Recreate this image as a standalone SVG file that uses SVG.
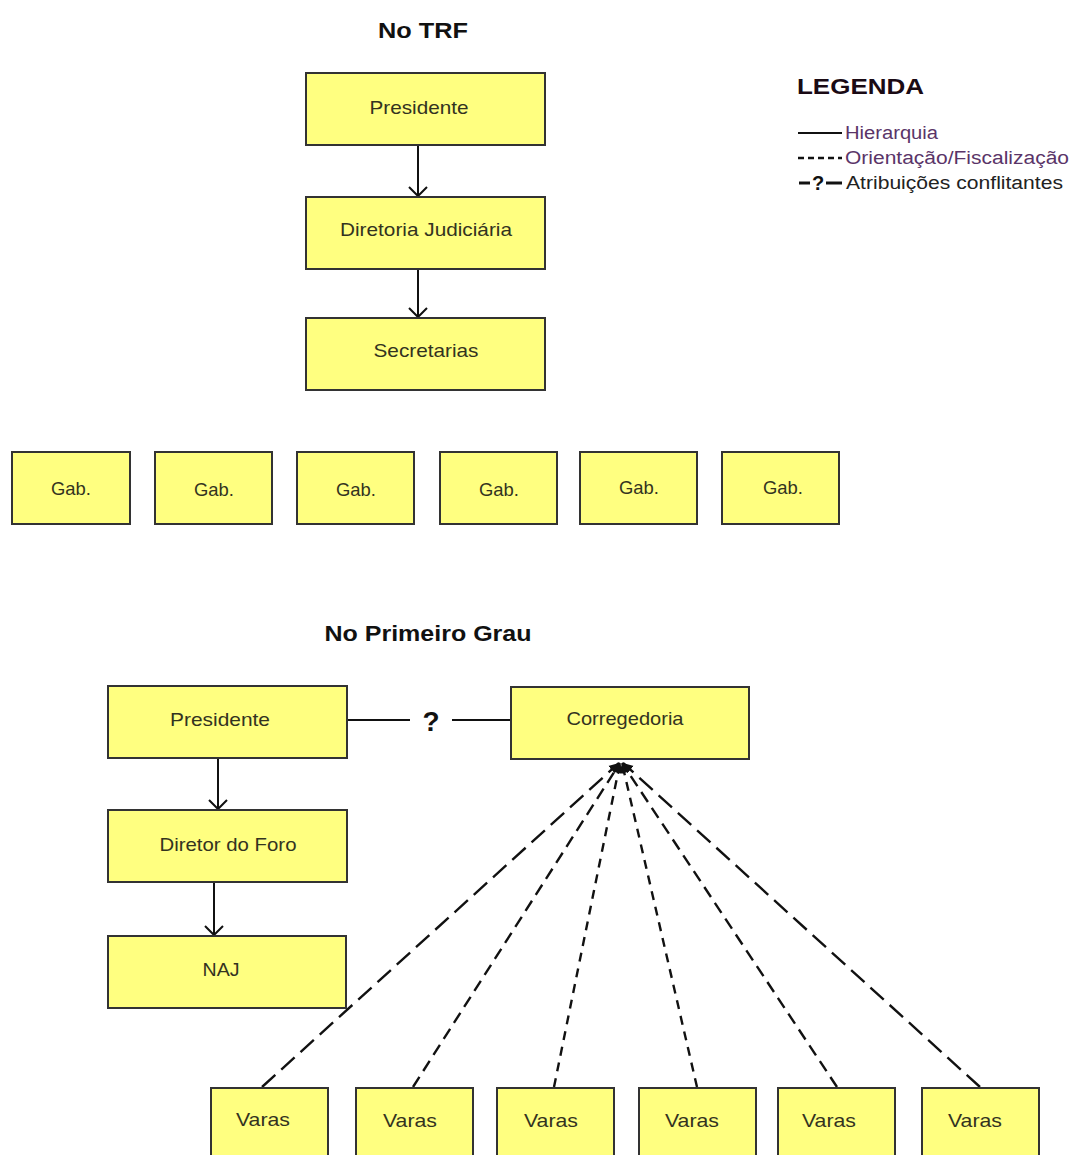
<svg xmlns="http://www.w3.org/2000/svg" width="1074" height="1155" viewBox="0 0 1074 1155">
<style>
.box{fill:#ffff80;stroke:#333;stroke-width:2}
.t{font-family:"Liberation Sans",Arial,sans-serif;font-size:19px;fill:#33331f;text-anchor:middle}
.h{font-family:"Liberation Sans",Arial,sans-serif;font-size:22px;font-weight:bold;fill:#111;text-anchor:middle}
.lg{font-family:"Liberation Sans",Arial,sans-serif;font-size:18px;fill:#5a3468}
.solid{stroke:#111;stroke-width:2;fill:none}
.dash{stroke:#111;stroke-width:2.4;fill:none}
</style>
<defs>
<marker id="open" markerUnits="userSpaceOnUse" markerWidth="20" markerHeight="20" refX="10" refY="10" orient="auto" viewBox="0 0 20 20">
<path d="M1,1 L10,10 L1,19" fill="none" stroke="#111" stroke-width="2"/>
</marker>
<marker id="tri" markerUnits="userSpaceOnUse" markerWidth="12" markerHeight="12" refX="10" refY="5" orient="auto" viewBox="0 0 12 10">
<path d="M0,0 L10,5 L0,10 Z" fill="#111"/>
</marker>
</defs>
<rect width="1074" height="1155" fill="#fff"/>

<text class="h" x="423" y="38" textLength="90" lengthAdjust="spacingAndGlyphs">No TRF</text>
<text class="h" x="428" y="641" textLength="207" lengthAdjust="spacingAndGlyphs">No Primeiro Grau</text>

<g id="legend">
<text x="797" y="94" font-family="Liberation Sans,Arial,sans-serif" font-size="22" font-weight="bold" fill="#1a0a14" textLength="127" lengthAdjust="spacingAndGlyphs">LEGENDA</text>
<line x1="798" y1="133" x2="842" y2="133" class="solid"/>
<text class="lg" x="845" y="139" textLength="93" lengthAdjust="spacingAndGlyphs">Hierarquia</text>
<line x1="798" y1="158" x2="842" y2="158" class="dash" stroke-dasharray="6 4"/>
<text class="lg" x="845" y="164" textLength="224" lengthAdjust="spacingAndGlyphs">Orientação/Fiscalização</text>
<line x1="799" y1="183" x2="810" y2="183" stroke="#111" stroke-width="3"/>
<text x="818" y="190" font-family="Liberation Sans,Arial,sans-serif" font-size="20" font-weight="bold" fill="#111" text-anchor="middle">?</text>
<line x1="826" y1="183" x2="842" y2="183" stroke="#111" stroke-width="3"/>
<text x="846" y="189" font-family="Liberation Sans,Arial,sans-serif" font-size="18" fill="#222" textLength="217" lengthAdjust="spacingAndGlyphs">Atribuições conflitantes</text>
</g>

<g id="connectors">
<line x1="418" y1="145" x2="418" y2="196" class="solid" marker-end="url(#open)"/>
<line x1="418" y1="269" x2="418" y2="317" class="solid" marker-end="url(#open)"/>
<line x1="218" y1="758" x2="218" y2="809" class="solid" marker-end="url(#open)"/>
<line x1="214" y1="882" x2="214" y2="935" class="solid" marker-end="url(#open)"/>
<line x1="347" y1="720" x2="410" y2="720" class="solid"/>
<text x="431" y="731" font-family="Liberation Sans,Arial,sans-serif" font-size="28" font-weight="bold" fill="#111" text-anchor="middle">?</text>
<line x1="452" y1="720" x2="511" y2="720" class="solid"/>
<line x1="262" y1="1087" x2="619" y2="763" class="dash" stroke-dasharray="18 8" marker-end="url(#tri)"/>
<line x1="413" y1="1087" x2="620" y2="763" class="dash" stroke-dasharray="12 7" marker-end="url(#tri)"/>
<line x1="554" y1="1087" x2="620" y2="763" class="dash" stroke-dasharray="9 7" marker-end="url(#tri)"/>
<line x1="697" y1="1087" x2="622" y2="763" class="dash" stroke-dasharray="9 7" marker-end="url(#tri)"/>
<line x1="837" y1="1087" x2="622" y2="763" class="dash" stroke-dasharray="12 7" marker-end="url(#tri)"/>
<line x1="980" y1="1087" x2="623" y2="763" class="dash" stroke-dasharray="18 8" marker-end="url(#tri)"/>
</g>

<g id="trf-presidente"><rect class="box" x="306" y="73" width="239" height="72"/><text class="t" x="419" y="114" textLength="99" lengthAdjust="spacingAndGlyphs">Presidente</text></g>
<g id="trf-diretoria"><rect class="box" x="306" y="197" width="239" height="72"/><text class="t" x="426" y="236" textLength="172" lengthAdjust="spacingAndGlyphs">Diretoria Judiciária</text></g>
<g id="trf-secretarias"><rect class="box" x="306" y="318" width="239" height="72"/><text class="t" x="426" y="357" textLength="105" lengthAdjust="spacingAndGlyphs">Secretarias</text></g>

<g id="gab1"><rect class="box" x="12" y="452" width="118" height="72"/><text class="t" x="71" y="495" textLength="40" lengthAdjust="spacingAndGlyphs">Gab.</text></g>
<g id="gab2"><rect class="box" x="155" y="452" width="117" height="72"/><text class="t" x="214" y="496" textLength="40" lengthAdjust="spacingAndGlyphs">Gab.</text></g>
<g id="gab3"><rect class="box" x="297" y="452" width="117" height="72"/><text class="t" x="356" y="496" textLength="40" lengthAdjust="spacingAndGlyphs">Gab.</text></g>
<g id="gab4"><rect class="box" x="440" y="452" width="117" height="72"/><text class="t" x="499" y="496" textLength="40" lengthAdjust="spacingAndGlyphs">Gab.</text></g>
<g id="gab5"><rect class="box" x="580" y="452" width="117" height="72"/><text class="t" x="639" y="494" textLength="40" lengthAdjust="spacingAndGlyphs">Gab.</text></g>
<g id="gab6"><rect class="box" x="722" y="452" width="117" height="72"/><text class="t" x="783" y="494" textLength="40" lengthAdjust="spacingAndGlyphs">Gab.</text></g>

<g id="pg-presidente"><rect class="box" x="108" y="686" width="239" height="72"/><text class="t" x="220" y="726" textLength="100" lengthAdjust="spacingAndGlyphs">Presidente</text></g>
<g id="pg-corregedoria"><rect class="box" x="511" y="687" width="238" height="72"/><text class="t" x="625" y="725" textLength="117" lengthAdjust="spacingAndGlyphs">Corregedoria</text></g>
<g id="pg-diretor"><rect class="box" x="108" y="810" width="239" height="72"/><text class="t" x="228" y="851" textLength="137" lengthAdjust="spacingAndGlyphs">Diretor do Foro</text></g>
<g id="pg-naj"><rect class="box" x="108" y="936" width="238" height="72"/><text class="t" x="221" y="976" textLength="37" lengthAdjust="spacingAndGlyphs">NAJ</text></g>

<g id="varas1"><rect class="box" x="211" y="1088" width="117" height="72"/><text class="t" x="263" y="1126" textLength="54" lengthAdjust="spacingAndGlyphs">Varas</text></g>
<g id="varas2"><rect class="box" x="356" y="1088" width="117" height="72"/><text class="t" x="410" y="1127" textLength="54" lengthAdjust="spacingAndGlyphs">Varas</text></g>
<g id="varas3"><rect class="box" x="497" y="1088" width="117" height="72"/><text class="t" x="551" y="1127" textLength="54" lengthAdjust="spacingAndGlyphs">Varas</text></g>
<g id="varas4"><rect class="box" x="639" y="1088" width="117" height="72"/><text class="t" x="692" y="1127" textLength="54" lengthAdjust="spacingAndGlyphs">Varas</text></g>
<g id="varas5"><rect class="box" x="778" y="1088" width="117" height="72"/><text class="t" x="829" y="1127" textLength="54" lengthAdjust="spacingAndGlyphs">Varas</text></g>
<g id="varas6"><rect class="box" x="922" y="1088" width="117" height="72"/><text class="t" x="975" y="1127" textLength="54" lengthAdjust="spacingAndGlyphs">Varas</text></g>
</svg>
